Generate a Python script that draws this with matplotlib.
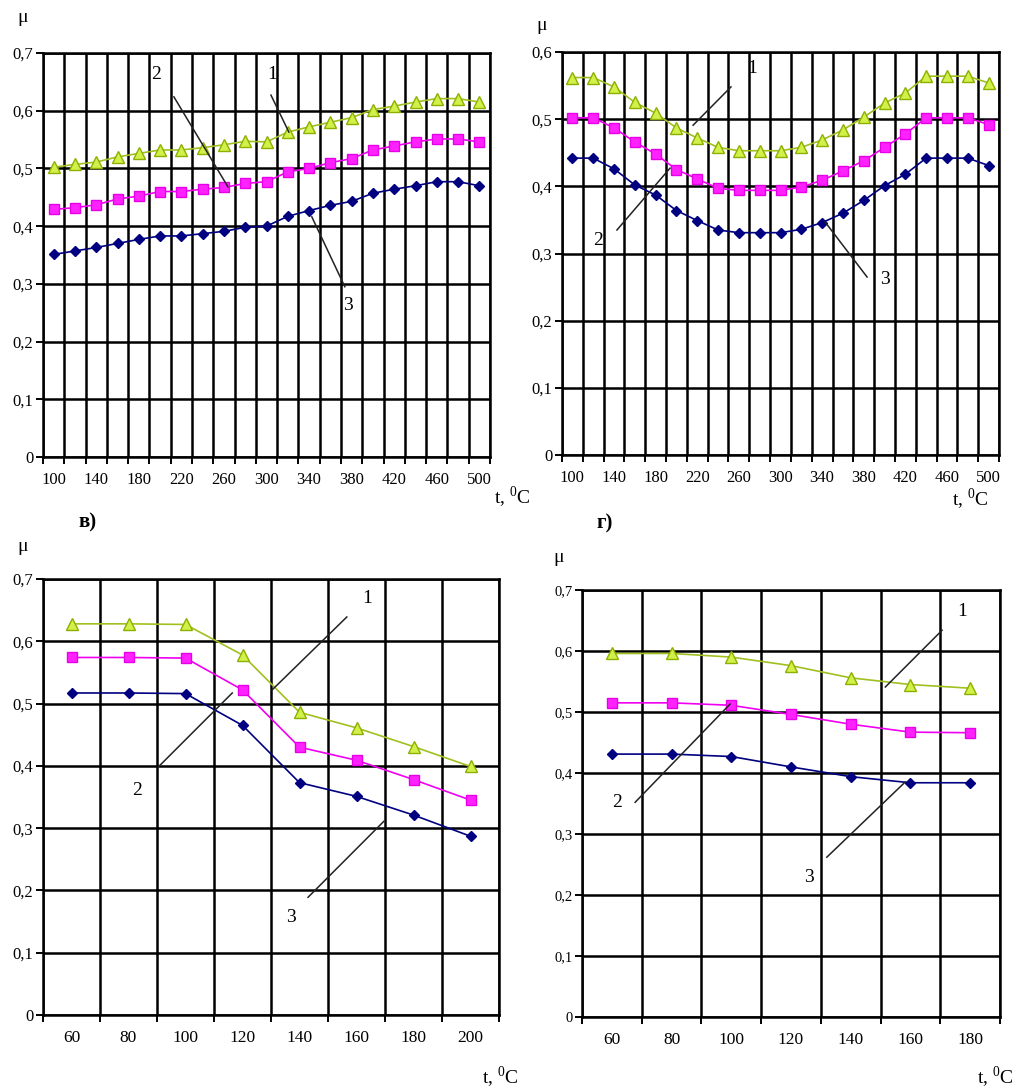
import matplotlib.pyplot as plt

plt.rcParams["font.family"] = ["Liberation Serif", "DejaVu Serif"]
plt.rcParams["mathtext.fontset"] = "custom"
plt.rcParams["mathtext.rm"] = "Liberation Serif"

# friction coefficient vs temperature, curves 1..3
t_a = list(range(100, 501, 20))
mu1_a = [0.502, 0.507, 0.511, 0.520, 0.526, 0.532, 0.532, 0.536, 0.541, 0.547, 0.546,
         0.563, 0.572, 0.580, 0.588, 0.602, 0.608, 0.615, 0.621, 0.621, 0.615]
mu2_a = [0.429, 0.432, 0.437, 0.447, 0.452, 0.460, 0.460, 0.464, 0.467, 0.474, 0.477,
         0.494, 0.500, 0.510, 0.517, 0.532, 0.539, 0.546, 0.551, 0.551, 0.546]
mu3_a = [0.351, 0.357, 0.363, 0.370, 0.377, 0.383, 0.383, 0.387, 0.391, 0.398, 0.400,
         0.417, 0.427, 0.436, 0.443, 0.457, 0.464, 0.470, 0.477, 0.477, 0.470]

t_b = list(range(100, 501, 20))
mu1_b = [0.562, 0.562, 0.548, 0.525, 0.509, 0.487, 0.472, 0.458, 0.453, 0.453, 0.453,
         0.458, 0.469, 0.484, 0.503, 0.524, 0.539, 0.564, 0.564, 0.564, 0.554]
mu2_b = [0.502, 0.502, 0.487, 0.466, 0.448, 0.425, 0.411, 0.397, 0.394, 0.394, 0.394,
         0.399, 0.409, 0.423, 0.438, 0.458, 0.478, 0.502, 0.502, 0.502, 0.492]
mu3_b = [0.442, 0.442, 0.426, 0.402, 0.387, 0.364, 0.349, 0.335, 0.331, 0.331, 0.331,
         0.336, 0.346, 0.360, 0.379, 0.401, 0.418, 0.442, 0.442, 0.442, 0.431]

t_c = [60, 80, 100, 120, 140, 160, 180, 200]
mu1_c = [0.628, 0.628, 0.627, 0.578, 0.486, 0.461, 0.431, 0.399]
mu2_c = [0.574, 0.574, 0.573, 0.522, 0.430, 0.409, 0.378, 0.345]
mu3_c = [0.517, 0.517, 0.516, 0.465, 0.373, 0.351, 0.321, 0.287]

t_d = [60, 80, 100, 120, 140, 160, 180]
mu1_d = [0.596, 0.596, 0.590, 0.576, 0.556, 0.545, 0.539]
mu2_d = [0.515, 0.515, 0.511, 0.496, 0.480, 0.467, 0.466]
mu3_d = [0.431, 0.431, 0.427, 0.410, 0.394, 0.384, 0.384]

# marker, size, face, edge, line
STYLES = [
    ("^", 8.5, "#D2F04A", "#8DB000", "#A0C020"),
    ("s", 7.0, "#FF22FF", "#E600E6", "#F000F0"),
    ("D", 5.5, "#000080", "#000080", "#000080"),
]

W, H = 1018, 1090


def fx(px):
    return px / W


def fy(py):
    return 1 - py / H


def panel(fig, box, temps, curves, ymax, step, notes, xfs, yfs):
    x0, y0, x1, y1 = box
    ax = fig.add_axes([fx(x0), fy(y1), (x1 - x0) / W, (y1 - y0) / H])
    n = len(temps)
    idx = list(range(n))
    for vals, (m, ms, fc, ec, lc) in zip(curves, STYLES):
        ax.plot(idx, vals, color=lc, lw=1.2, marker=m, ms=ms, mfc=fc, mec=ec,
                mew=1, zorder=3)
    ax.set_xlim(-0.5, n - 0.5)
    ax.set_ylim(0, ymax)
    ax.set_xticks(idx[::step])
    ax.set_xticklabels([str(t) for t in temps[::step]], fontsize=xfs)
    ax.set_xticks([i - 0.5 for i in range(n + 1)], minor=True)
    yt = [k / 10 for k in range(int(round(ymax * 10)) + 1)]
    ax.set_yticks(yt)
    ax.set_yticklabels(["0" if v == 0 else f"{v:.1f}".replace(".", ",") for v in yt],
                       fontsize=yfs)
    ax.grid(True, which="minor", axis="x", color="black", lw=1.8)
    ax.grid(True, which="major", axis="y", color="black", lw=1.8)
    ax.tick_params(axis="x", which="major", length=0, pad=11)
    ax.tick_params(axis="x", which="minor", length=5, width=1.4)
    ax.tick_params(axis="y", length=5, width=1.4, pad=2)
    for s in ax.spines.values():
        s.set_linewidth(1.8)
    for label, (tx, ty), (lx0, ly0), (lx1, ly1) in notes:
        ax.plot([lx0, lx1], [ly0, ly1], color="#222222", lw=1.1, zorder=4)
        ax.text(tx, ty, label, fontsize=14, ha="center", va="center")
    return ax


fig = plt.figure(figsize=(W / 100, H / 100), dpi=100)

panel(fig, (43, 53, 490, 457), t_a, [mu1_a, mu2_a, mu3_a], 0.7, 2,
      [("2", (4.81, 0.662), (5.65, 0.624), (8.19, 0.468)),
       ("1", (10.26, 0.662), (10.21, 0.627), (11.05, 0.563)),
       ("3", (13.83, 0.263), (12.13, 0.416), (13.68, 0.295))], 12, 12)

panel(fig, (562, 52, 999, 455), t_b, [mu1_b, mu2_b, mu3_b], 0.6, 2,
      [("1", (8.63, 0.576), (7.62, 0.548), (5.80, 0.491)),
       ("2", (1.23, 0.320), (2.14, 0.335), (4.69, 0.427)),
       ("3", (15.02, 0.261), (12.14, 0.347), (14.16, 0.265))], 12, 12)

panel(fig, (43, 579, 499, 1015), t_c, [mu1_c, mu2_c, mu3_c], 0.7, 1,
      [("1", (5.18, 0.669), (4.83, 0.639), (3.52, 0.522)),
       ("2", (1.15, 0.361), (1.52, 0.398), (2.82, 0.517)),
       ("3", (3.85, 0.157), (4.15, 0.189), (5.48, 0.311))], 12.5, 12)

panel(fig, (582, 590, 1000, 1017), t_d, [mu1_d, mu2_d, mu3_d], 0.7, 1,
      [("1", (5.87, 0.664), (5.53, 0.634), (4.58, 0.541)),
       ("2", (0.09, 0.352), (0.39, 0.352), (1.98, 0.513)),
       ("3", (3.30, 0.228), (3.60, 0.262), (4.91, 0.385))], 12.5, 10.5)

for px, py in [(23, 18), (542, 25), (23, 547), (559, 558)]:
    fig.text(fx(px), fy(py), "μ", fontsize=14, ha="center", va="center")

for px, py in [(512, 497), (970, 499), (500, 1077), (995, 1077)]:
    fig.text(fx(px), fy(py), r"t, $^0$C", fontsize=14, ha="center", va="center")

fig.text(fx(88), fy(522), "в)", fontsize=15, fontweight="bold", ha="center", va="center")
fig.text(fx(605), fy(523), "г)", fontsize=15, fontweight="bold", ha="center", va="center")

fig.savefig("out.png", dpi=100)
